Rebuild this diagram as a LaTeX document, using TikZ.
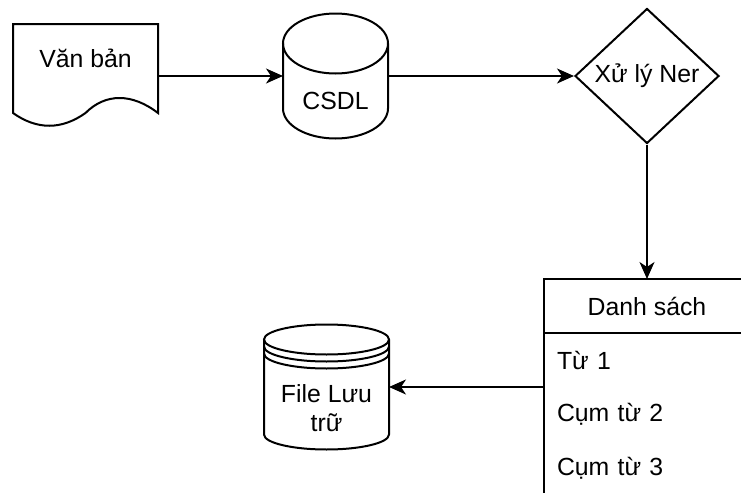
\documentclass[tikz,border=0pt]{standalone}
\usepackage{fontspec}
\setmainfont{Liberation Sans}
\usetikzlibrary{arrows.meta,positioning,shapes.geometric,fit}
\tikzset{>={Stealth[length=8.5pt,width=7.5pt,inset=2.5pt]}}

\begin{document}
\begin{tikzpicture}[
    x=0.5pt, y=-0.5pt,
    font=\fontsize{12.4}{14.4}\selectfont,
    line width=1pt,
    docbox/.style={rectangle, outer sep=0pt, minimum width=72.5pt, minimum height=52pt},
    dbbox/.style={rectangle, outer sep=0pt, minimum width=52.5pt, minimum height=62.5pt},
    storebox/.style={rectangle, outer sep=0pt, minimum width=62.5pt, minimum height=62.5pt},
    decision/.style={diamond, draw, minimum width=72pt, minimum height=67.5pt, inner sep=0pt},
    listhead/.style={rectangle, outer sep=0pt, minimum width=103pt, minimum height=27pt},
    listitem/.style={rectangle, outer sep=0pt, text width=90pt, inner xsep=6.5pt,
        inner ysep=0pt, minimum height=27pt, align=left},
    flow/.style={->, line width=1pt}
]
    \useasboundingbox (0,0) rectangle (741,493);

    \node[docbox, label={[name=doctext, yshift=9pt]center:Văn bản}] (doc) at (85.5,76) {};
    \node[dbbox, right=62.5pt of doc, label={[name=csdltext, yshift=-12.5pt]center:CSDL}] (csdl) {};
    \node[decision, right=93pt of csdl] (ner) {Xử lý Ner};
    \node[listhead, below=67.25pt of ner] (head) {Danh sách};
    \node[listitem, below=0pt of head] (w1) {Từ 1};
    \node[listitem, below=0pt of w1] (w2) {Cụm từ 2};
    \node[listitem, below=0pt of w2] (w3) {Cụm từ 3};
    \node[draw, fit=(head)(w3), inner sep=0pt, outer sep=0pt] (list) {};
    \node[storebox, left=77.5pt of list,
        label={[name=filetext, align=center, yshift=-10.5pt]center:File Lưu\\trữ}] (file) {};

    % document outline
    \draw (doc.north west) -- ([yshift=7.5pt]doc.south west)
        .. controls +(24,17) and +(-24,17) .. ([yshift=7.5pt]doc.south)
        .. controls +(20,-20) and +(-26,-20) .. ([yshift=7.5pt]doc.south east)
        -- (doc.north east) -- cycle;

    % database
    \draw ([yshift=-15pt]csdl.north) ellipse[x radius=26.25pt, y radius=15pt];
    \draw ([yshift=-15pt]csdl.north west) -- ([yshift=15pt]csdl.south west)
        arc[start angle=180, end angle=360, x radius=26.25pt, y radius=15pt]
        -- ([yshift=-15pt]csdl.north east);

    % data store
    \draw ([yshift=-7.5pt]file.north) ellipse[x radius=31.25pt, y radius=7.5pt];
    \draw ([yshift=-11pt]file.north west) arc[start angle=180, end angle=360, x radius=31.25pt, y radius=7.5pt];
    \draw ([yshift=-14.5pt]file.north west) arc[start angle=180, end angle=360, x radius=31.25pt, y radius=7.5pt];
    \draw ([yshift=-7.5pt]file.north west) -- ([yshift=7.5pt]file.south west)
        arc[start angle=180, end angle=360, x radius=31.25pt, y radius=7.5pt]
        -- ([yshift=-7.5pt]file.north east);

    \draw (head.south west) -- (head.south east);

    \draw[flow] (doc) -- (csdl);
    \draw[flow] (csdl) -- (ner);
    \draw[flow] (ner) -- (head);
    \draw[flow] (list) -- (file);
\end{tikzpicture}
\end{document}
